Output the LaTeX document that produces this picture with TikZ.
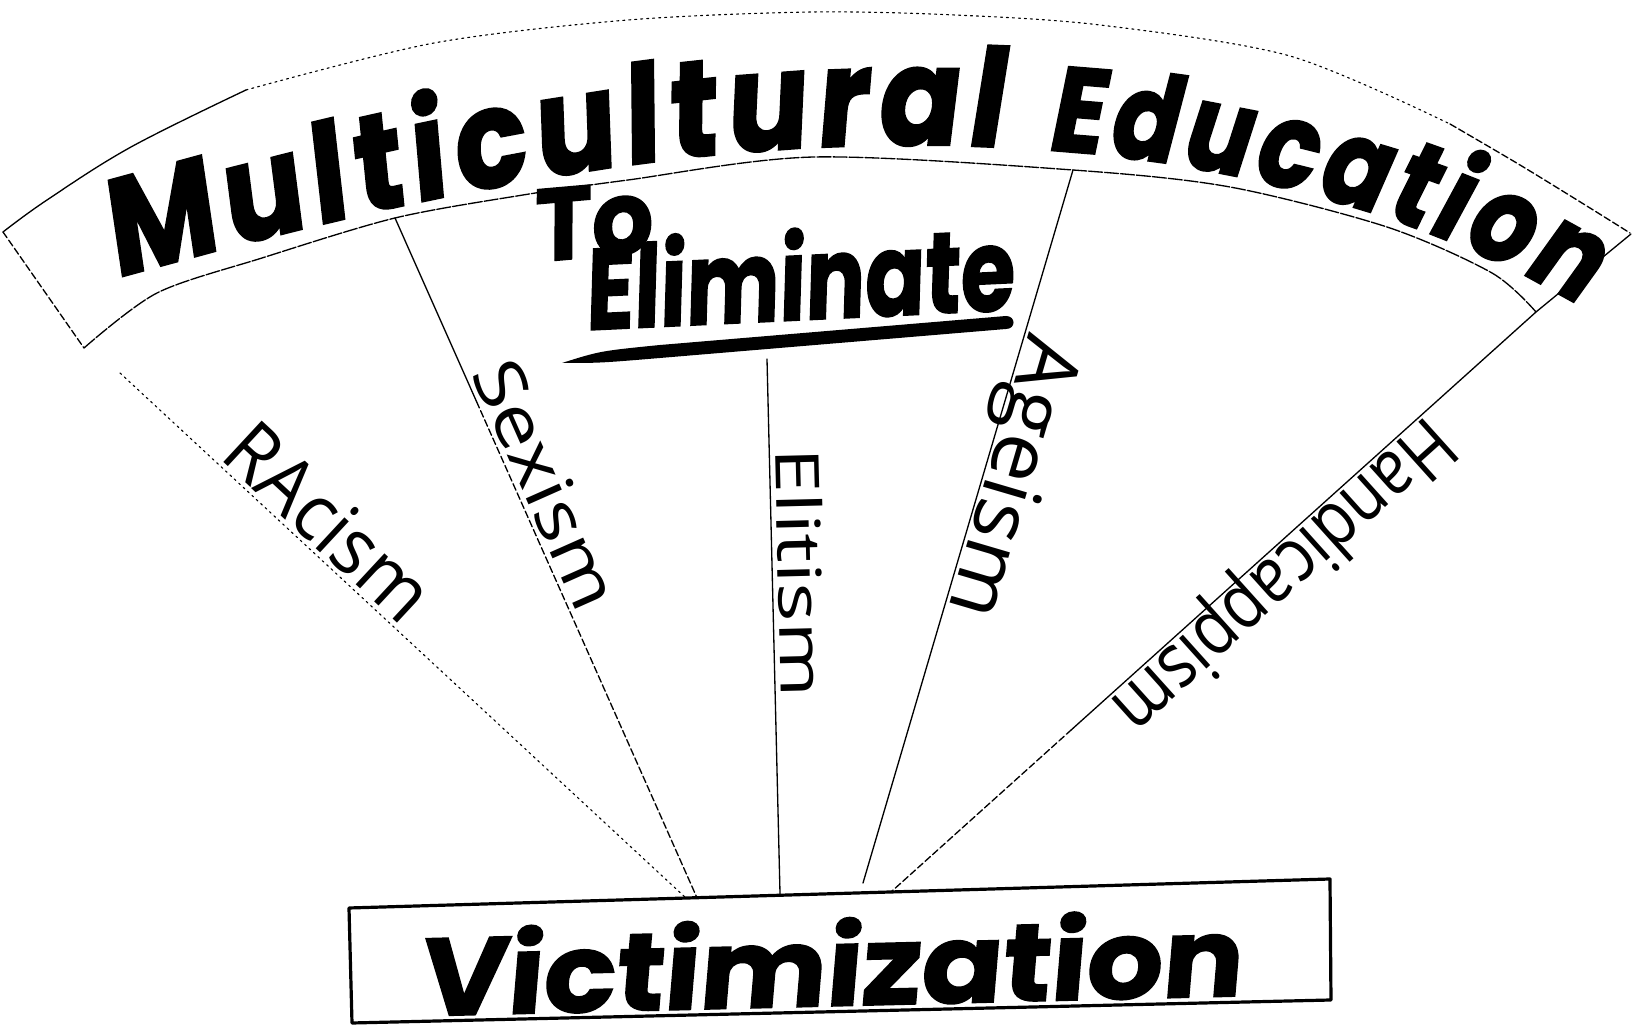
\documentclass[tikz,border=0pt]{standalone}
\usepackage{fontspec}
\usepackage{graphicx}
\usetikzlibrary{decorations.text,calc}
\newfontfamily\brush{Poppins}[FakeSlant=0.1,FakeBold=1.5]
\newfontfamily\brushwide{Poppins}[FakeSlant=0.12,FakeBold=2,FakeStretch=0.88]
\newfontfamily\brushslim{Poppins}[FakeSlant=0.12,FakeBold=2,FakeStretch=0.82]
\newfontfamily\hand{Open Sans}
\newcommand\bannerfont{\brushwide\bfseries\fontsize{34}{34}\selectfont}
\newcommand\bannerfontb{\brushslim\bfseries\fontsize{30}{30}\selectfont}

\begin{document}
% one coordinate unit = 0.25pt; the page is 1632 x 1026 units
\begin{tikzpicture}[x=0.25pt,y=-0.25pt,
  penline/.style={line width=0.33pt, line cap=round, line join=round},
  dashpen/.style={penline, dash pattern=on 1.75pt off 0.75pt},
  dotpen/.style={penline, line width=0.28pt, dash pattern=on 0.5pt off 1pt},
  boxpen/.style={line width=0.8pt, line join=round},
  linelabel/.style={sloped, allow upside down, anchor=base, inner sep=0pt},
  bigword/.style={anchor=base, inner sep=0pt},
]
\useasboundingbox (0,0) rectangle (1632,1026);
\fill[white] (0,0) rectangle (1632,1026);

% ---- curved banner ----
\draw[penline] plot[smooth, tension=0.6] coordinates {(3,232) (47,200) (131,147) (246,90)};
\draw[dotpen] plot[smooth] coordinates {(246,90) (434,43) (628,20) (812,12) (955,15) (1100,25) (1290,56) (1450,124)};
\draw[dashpen] plot[smooth] coordinates {(1450,124) (1520,165) (1590,208) (1630,233)};
\draw[dashpen] (3,232) -- (84,348);
\draw[penline, dash pattern=on 3.5pt off 0.5pt] plot[smooth] coordinates {(84,348) (157,293) (262,258) (395,218) (523,195) (628,180) (814,157) (1073,170) (1230,187) (1387,227) (1492,273) (1536,312)};
\draw[penline] (1631,234) -- (1536,312);

% banner lettering, each word set along its own curved baseline
\path[decorate, decoration={text along path, text align=fit to path,
  text={|\bannerfont|Multicultural}}]
  (116,278) .. controls (412,195) and (700,132) .. (1000,147);
\path[decorate, decoration={text along path, text align=fit to path,
  text={|\bannerfontb|Education}}]
  (1046,150) .. controls (1220,160) and (1430,215) .. (1578,305);

% ---- "To Eliminate" with its brush underline ----
\node[bigword, rotate=5] (to) at (594,257) {\resizebox{29.75pt}{18pt}{\brush\bfseries To}};
\node[bigword, rotate=2.7] (elim) at (800,320) {\resizebox{107.25pt}{23pt}{\brush\bfseries Eliminate}};
\fill (562,363) .. controls (600,351) .. (660,345) -- (1006,316)
  .. controls (1016,316) and (1016,329) .. (1006,329) -- (660,358)
  .. controls (600,363) .. cycle;

% ---- Victimization box ----
\coordinate (bTL) at (349,908);
\coordinate (bTR) at (1330,879);
\coordinate (bBR) at (1331,1000);
\coordinate (bBL) at (352,1023);
\draw[boxpen] (bTL) -- (bTR) -- (bBR) -- (bBL) -- cycle;
\node[bigword, rotate=1.4] (vic) at (830,1006) {\resizebox{205.75pt}{22pt}{\brush\bfseries Victimization}};

% ---- radiating lines ----
\coordinate (rTop) at (120,373);
\coordinate (rBot) at ($(bTL)!0.3435!(bTR)$);
\coordinate (sTop) at (395,218);
\coordinate (sBot) at ($(bTL)!0.3547!(bTR)$);
\coordinate (eTop) at (767,359);
\coordinate (eBot) at ($(bTL)!0.4394!(bTR)$);
\coordinate (aTop) at (1073,170);
\coordinate (aBot) at (863,883);
\coordinate (hTop) at (1536,312);
\coordinate (hBot) at ($(bTL)!0.5525!(bTR)$);

\draw[dotpen] (rTop) -- node[linelabel, pos=0.33] (racism)
  {\raisebox{1.25pt}{\resizebox{62.5pt}{14.5pt}{\hand RAcism}}} (rBot);

\draw[penline] (sTop) -- ($(sTop)!0.27!(sBot)$);
\draw[dashpen] ($(sTop)!0.27!(sBot)$) -- (sBot);
\path (sTop) -- node[linelabel, pos=0.41] (sexism)
  {\raisebox{1.5pt}{\resizebox{66.25pt}{12.5pt}{\hand Sexism}}} (sBot);

\draw[penline] (eTop) -- node[linelabel, pos=0.40] (elitism)
  {\raisebox{1.5pt}{\resizebox{62.5pt}{11.5pt}{\hand Elitism}}} (eBot);

\draw[penline] (aTop) -- node[linelabel, pos=0.42] (ageism)
  {\raisebox{1pt}{\resizebox{72.5pt}{15pt}{\hand Ageism}}} (aBot);

\draw[penline] (hTop) -- ($(hTop)!0.72!(hBot)$);
\draw[dashpen] ($(hTop)!0.72!(hBot)$) -- (hBot);
\path (hTop) -- node[linelabel, pos=0.42] (handicappism)
  {\raisebox{1pt}{\resizebox{107.5pt}{14.5pt}{\hand Handicappism}}} (hBot);
\end{tikzpicture}
\end{document}
